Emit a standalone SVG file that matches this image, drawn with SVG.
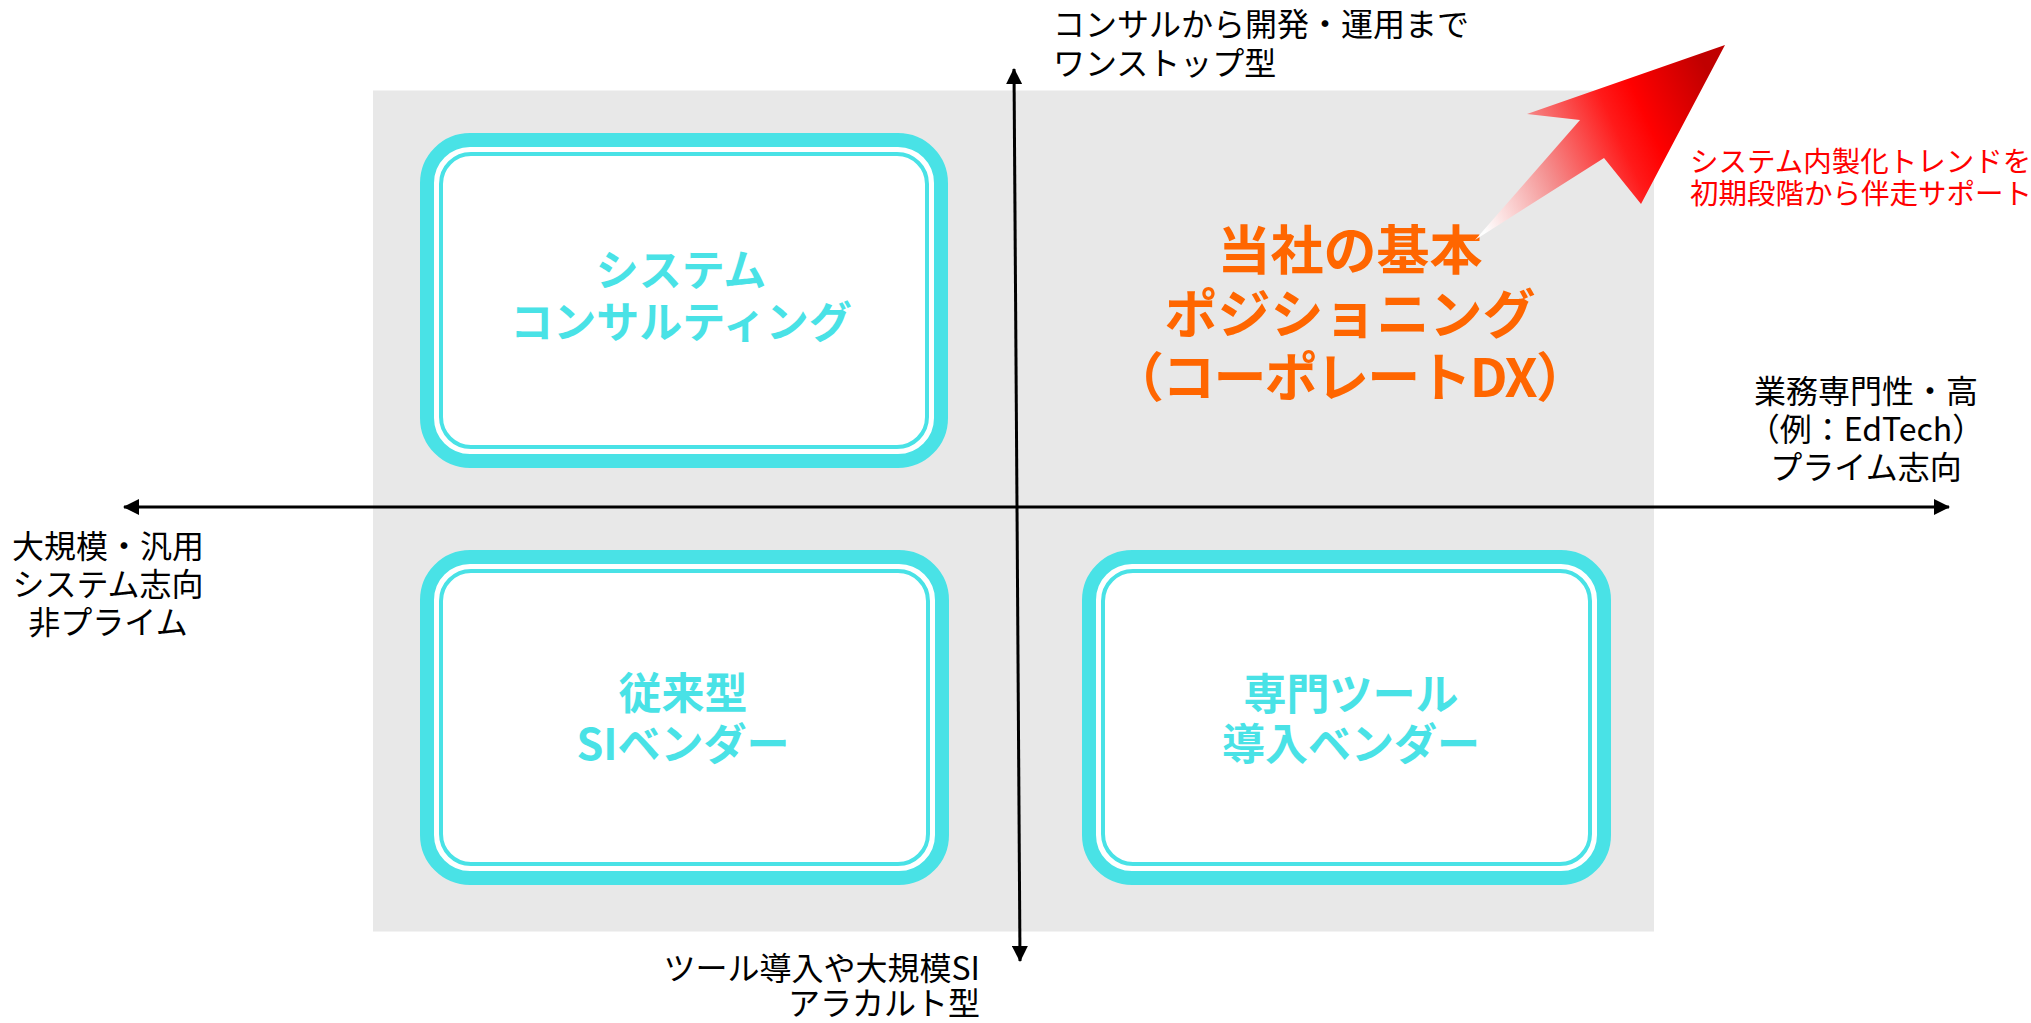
<svg xmlns="http://www.w3.org/2000/svg" width="2031" height="1023" viewBox="0 0 2031 1023">
  <defs>
    <style>
      .bg { fill: #E8E8E8; }
      .box-outer { fill: #FFFFFF; stroke: #49E2E6; stroke-width: 14; }
      .box-inner { fill: none; stroke: #49E2E6; stroke-width: 4; }
      .box-text { font-family: "Noto Sans CJK JP", "Liberation Sans", sans-serif; font-weight: 700; font-size: 43px; fill: #49E2E6; text-anchor: middle; }
      .pos-text { font-family: "Noto Sans CJK JP", "Liberation Sans", sans-serif; font-weight: 700; font-size: 53px; fill: #FF6600; text-anchor: middle; }
      .axis-label { font-family: "Noto Sans CJK JP", "Liberation Sans", sans-serif; font-weight: 400; font-size: 32px; fill: #000000; }
      .trend-text { font-family: "Noto Sans CJK JP", "Liberation Sans", sans-serif; font-weight: 400; font-size: 28.5px; fill: #FF0000; }
      .axis { stroke: #000000; stroke-width: 3; fill: none; marker-end: url(#arrowhead); }
    </style>
    <marker id="arrowhead" viewBox="0 0 16 16" refX="15" refY="8" markerWidth="16" markerHeight="16" markerUnits="userSpaceOnUse" orient="auto">
      <path d="M0,0 L16,8 L0,16 Z" fill="#000000"/>
    </marker>
    <linearGradient id="trendGrad" gradientUnits="userSpaceOnUse" x1="1480" y1="220" x2="1725" y2="110">
      <stop offset="0" stop-color="#FFFFFF" stop-opacity="0.95"/>
      <stop offset="0.3" stop-color="#F49090"/>
      <stop offset="0.6" stop-color="#FF1A1A"/>
      <stop offset="0.72" stop-color="#FF0000"/>
      <stop offset="1" stop-color="#C00000"/>
    </linearGradient>
  </defs>

  <g id="background">
    <rect class="bg" x="373" y="90.5" width="1281" height="841"/>
  </g>

  <g id="connectors">
    <line id="axis-left" class="axis" x1="1017" y1="507" x2="124" y2="507"/>
    <line id="axis-right" class="axis" x1="1017" y1="507" x2="1949" y2="507"/>
    <line id="axis-up" class="axis" x1="1017" y1="507" x2="1014" y2="69"/>
    <line id="axis-down" class="axis" x1="1017" y1="507" x2="1020" y2="961"/>
  </g>

  <g id="node-consulting">
    <rect class="box-outer" x="427" y="140" width="514" height="321" rx="43"/>
    <rect class="box-inner" x="441" y="154" width="486" height="293" rx="30"/>
    <text class="box-text" x="681" y="286">システム</text>
    <text class="box-text" x="681" y="338">コンサルティング</text>
  </g>

  <g id="node-si-vendor">
    <rect class="box-outer" x="427" y="557" width="515" height="321" rx="43"/>
    <rect class="box-inner" x="441" y="571" width="487" height="293" rx="30"/>
    <text class="box-text" x="683" y="709">従来型</text>
    <text class="box-text" x="683" y="760">SIベンダー</text>
  </g>

  <g id="node-tool-vendor">
    <rect class="box-outer" x="1089" y="557" width="515" height="321" rx="43"/>
    <rect class="box-inner" x="1103" y="571" width="487" height="293" rx="30"/>
    <text class="box-text" x="1351" y="710">専門ツール</text>
    <text class="box-text" x="1351" y="760">導入ベンダー</text>
  </g>

  <g id="node-position">
    <text class="pos-text" x="1350" y="270">当社の基本</text>
    <text class="pos-text" x="1350" y="334">ポジショニング</text>
    <text class="pos-text" x="1350" y="397" textLength="478" lengthAdjust="spacing">（コーポレートDX）</text>
  </g>

  <g id="trend-arrow">
    <polygon points="1725,45 1527,114 1580,120 1475,240 1604,158 1641,204" fill="url(#trendGrad)"/>
  </g>

  <g id="trend-label">
    <text class="trend-text" x="1690" y="172">システム内製化トレンドを</text>
    <text class="trend-text" x="1690" y="204">初期段階から伴走サポート</text>
  </g>

  <g id="label-top">
    <text class="axis-label" x="1053" y="36">コンサルから開発・運用まで</text>
    <text class="axis-label" x="1053" y="75">ワンストップ型</text>
  </g>

  <g id="label-left">
    <text class="axis-label" x="108" y="558" text-anchor="middle">大規模・汎用</text>
    <text class="axis-label" x="108" y="596" text-anchor="middle">システム志向</text>
    <text class="axis-label" x="108" y="634" text-anchor="middle">非プライム</text>
  </g>

  <g id="label-right">
    <text class="axis-label" x="1866" y="403" text-anchor="middle">業務専門性・高</text>
    <text class="axis-label" x="1866" y="441" text-anchor="middle">（例：EdTech）</text>
    <text class="axis-label" x="1866" y="479" text-anchor="middle">プライム志向</text>
  </g>

  <g id="label-bottom">
    <text class="axis-label" x="980" y="980" text-anchor="end">ツール導入や大規模SI</text>
    <text class="axis-label" x="980" y="1015" text-anchor="end">アラカルト型</text>
  </g>
</svg>
